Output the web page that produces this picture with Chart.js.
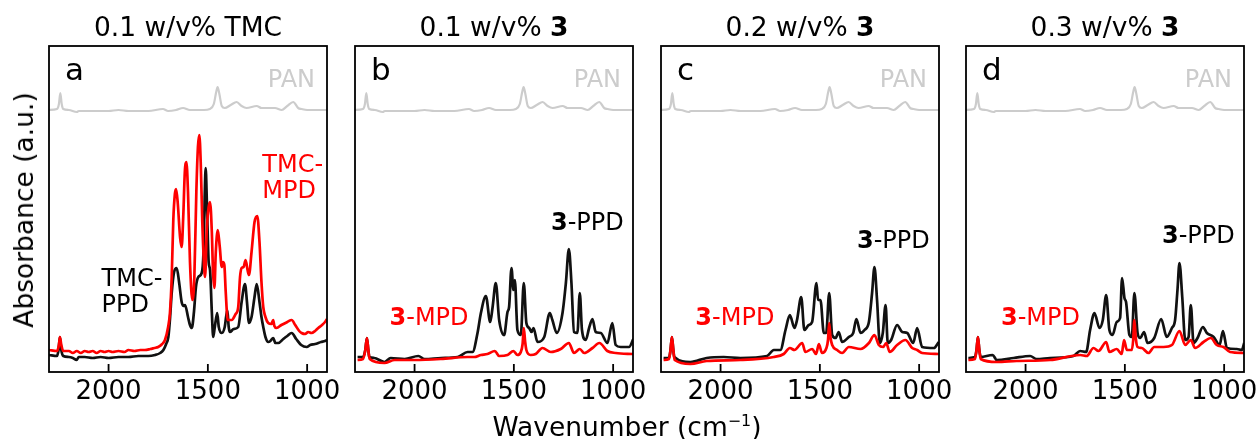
<!DOCTYPE html>
<html>
<head>
<meta charset="utf-8">
<script src="https://cdn.jsdelivr.net/npm/chart.js@4.4.1/dist/chart.umd.min.js"></script>
<style>
  body { margin: 0; background: #fff; width: 1258px; height: 439px; position: relative; overflow: hidden; font-family: "DejaVu Sans", sans-serif; color: #000; }
  canvas { position: absolute; top: 0; }
  .ttl { position: absolute; top: 14px; width: 278px; text-align: center; font-size: 26.5px; line-height: 26px; white-space: nowrap; }
  .xttl { position: absolute; top: 414px; left: 627px; transform: translateX(-50%); font-size: 26.5px; line-height: 26px; white-space: nowrap; }
  .yttl { position: absolute; left: 24px; top: 210px; transform: translate(-50%, -50%) rotate(-90deg); font-size: 26.5px; line-height: 26px; white-space: nowrap; }
  sup { font-size: 60%; line-height: 0; }
</style>
</head>
<body>
<canvas id="pa" width="358" height="439" style="left:4px"></canvas>
<canvas id="pb" width="358" height="439" style="left:310px"></canvas>
<canvas id="pc" width="358" height="439" style="left:616px"></canvas>
<canvas id="pd" width="358" height="439" style="left:921px"></canvas>
<div class="ttl" style="left:49px">0.1 w/v% TMC</div>
<div class="ttl" style="left:355px">0.1 w/v% <b>3</b></div>
<div class="ttl" style="left:661px">0.2 w/v% <b>3</b></div>
<div class="ttl" style="left:966px">0.3 w/v% <b>3</b></div>
<div class="yttl">Absorbance (a.u.)</div>
<div class="xttl">Wavenumber (cm<sup>−1</sup>)</div>
<script>
const xTicks = [2000, 1500, 1000];
const panelLetters = ['a', 'b', 'c', 'd'];

// wavenumber (cm-1), absorbance (offset, a.u.)
const pan = [[2300,2.62],[2260,2.63],[2250,2.68],[2243,2.79],[2236,2.68],[2228,2.63],[2200,2.62],[2160,2.60],[2150,2.61],[2100,2.61],
  [2000,2.61],[1950,2.62],[1900,2.61],[1800,2.61],[1726,2.63],[1700,2.61],[1660,2.62],[1625,2.64],[1590,2.62],[1520,2.62],
  [1490,2.63],[1470,2.68],[1458,2.80],[1451,2.85],[1442,2.78],[1430,2.66],[1415,2.64],[1385,2.67],[1355,2.70],[1330,2.66],
  [1305,2.64],[1254,2.66],[1230,2.64],[1204,2.64],[1162,2.64],[1128,2.62],[1100,2.66],[1070,2.70],[1045,2.64],[1028,2.63],
  [1000,2.62],[950,2.62],[900,2.62]];

const tmcMpd = [[2300,0.22],[2260,0.21],[2250,0.27],[2245,0.35],[2238,0.27],[2228,0.21],[2200,0.21],[2180,0.19],[2160,0.21],[2140,0.19],
  [2120,0.21],[2100,0.20],[2080,0.21],[2060,0.19],[2040,0.21],[2020,0.20],[2000,0.21],[1980,0.20],[1950,0.21],[1920,0.20],
  [1900,0.22],[1870,0.21],[1840,0.22],[1817,0.22],[1790,0.23],[1770,0.24],[1750,0.25],[1730,0.28],[1716,0.32],[1700,0.45],
  [1691,0.59],[1682,0.95],[1674,1.52],[1666,1.78],[1660,1.83],[1652,1.70],[1640,1.35],[1632,1.25],[1624,1.55],[1616,2.00],
  [1608,2.10],[1600,1.80],[1590,1.10],[1578,0.72],[1568,0.95],[1558,1.80],[1550,2.25],[1543,2.37],[1536,2.10],[1528,1.50],
  [1520,1.10],[1514,0.95],[1505,1.45],[1496,1.65],[1489,1.70],[1480,1.40],[1474,1.00],[1467,0.84],[1460,1.20],[1450,1.42],
  [1440,1.25],[1430,1.05],[1424,1.10],[1417,1.07],[1410,0.80],[1400,0.52],[1380,0.52],[1360,0.58],[1347,0.65],[1338,0.95],
  [1330,1.04],[1320,1.05],[1310,1.12],[1300,1.02],[1293,0.97],[1280,1.20],[1265,1.50],[1251,1.56],[1240,1.30],[1230,0.90],
  [1221,0.65],[1210,0.55],[1196,0.49],[1180,0.48],[1171,0.52],[1165,0.46],[1154,0.44],[1130,0.47],[1100,0.50],[1078,0.52],
  [1060,0.47],[1040,0.41],[1028,0.39],[1010,0.38],[995,0.40],[978,0.39],[960,0.41],[944,0.44],[925,0.47],[910,0.50],[900,0.53]];

const tmcPpd = [[2300,0.17],[2260,0.16],[2252,0.22],[2245,0.35],[2238,0.22],[2228,0.16],[2200,0.15],[2180,0.14],[2161,0.12],[2150,0.15],
  [2120,0.15],[2080,0.14],[2040,0.15],[2000,0.14],[1950,0.15],[1900,0.15],[1850,0.16],[1800,0.16],[1766,0.17],[1740,0.19],
  [1724,0.22],[1710,0.28],[1699,0.35],[1690,0.55],[1682,0.79],[1670,1.00],[1657,1.04],[1645,0.90],[1632,0.70],[1622,0.66],
  [1615,0.67],[1600,0.55],[1590,0.47],[1581,0.44],[1570,0.60],[1560,0.85],[1548,0.95],[1531,0.99],[1522,1.20],[1516,1.75],
  [1511,2.04],[1505,1.70],[1496,1.10],[1489,1.02],[1480,0.60],[1473,0.35],[1465,0.45],[1453,0.59],[1445,0.45],[1430,0.39],
  [1415,0.45],[1402,0.62],[1395,0.45],[1389,0.40],[1370,0.43],[1347,0.45],[1330,0.70],[1313,0.88],[1303,0.70],[1293,0.49],
  [1280,0.55],[1265,0.75],[1254,0.88],[1240,0.70],[1230,0.55],[1221,0.45],[1210,0.35],[1196,0.30],[1185,0.31],[1171,0.34],
  [1160,0.29],[1145,0.29],[1120,0.33],[1100,0.36],[1078,0.39],[1055,0.33],[1030,0.27],[1002,0.25],[985,0.27],[960,0.28],
  [930,0.30],[910,0.31],[900,0.32]];

const ppd01 = [[2287,0.15],[2260,0.15],[2248,0.22],[2240,0.34],[2233,0.22],[2228,0.15],[2203,0.14],[2152,0.10],[2120,0.14],[2050,0.13],
  [1981,0.16],[1950,0.13],[1867,0.14],[1783,0.15],[1733,0.20],[1708,0.20],[1683,0.39],[1666,0.59],[1641,0.76],[1619,0.50],
  [1607,0.65],[1591,0.89],[1574,0.52],[1549,0.37],[1532,0.60],[1524,0.65],[1512,1.04],[1502,0.82],[1495,0.92],[1482,0.42],
  [1465,0.37],[1450,0.89],[1437,0.49],[1423,0.44],[1411,0.40],[1401,0.44],[1381,0.30],[1347,0.35],[1319,0.59],[1306,0.52],
  [1284,0.39],[1255,0.59],[1238,0.89],[1223,1.23],[1210,0.89],[1197,0.40],[1180,0.39],[1168,0.79],[1157,0.42],[1138,0.32],
  [1121,0.44],[1104,0.53],[1088,0.40],[1062,0.39],[1029,0.29],[1004,0.49],[987,0.27],[962,0.25],[920,0.25],[898,0.33]];

const mpd01 = [[2287,0.12],[2260,0.13],[2248,0.22],[2240,0.34],[2233,0.22],[2226,0.13],[2152,0.09],[2100,0.12],[2000,0.12],[1867,0.13],
  [1733,0.15],[1700,0.15],[1666,0.17],[1633,0.18],[1596,0.21],[1574,0.16],[1532,0.17],[1502,0.21],[1482,0.17],[1465,0.20],
  [1456,0.28],[1450,0.44],[1443,0.30],[1437,0.22],[1416,0.17],[1390,0.18],[1356,0.24],[1314,0.20],[1264,0.23],[1223,0.29],
  [1197,0.19],[1168,0.23],[1146,0.19],[1104,0.24],[1069,0.29],[1029,0.21],[987,0.19],[898,0.18]];

const ppd02 = [[2287,0.14],[2260,0.14],[2252,0.22],[2245,0.35],[2238,0.22],[2233,0.15],[2152,0.10],[2070,0.14],[1984,0.15],[1900,0.14],
  [1766,0.16],[1732,0.22],[1699,0.22],[1673,0.42],[1651,0.57],[1628,0.44],[1615,0.52],[1594,0.75],[1578,0.42],[1556,0.47],
  [1539,0.50],[1517,0.89],[1509,0.72],[1497,0.72],[1480,0.39],[1468,0.39],[1453,0.79],[1438,0.37],[1421,0.34],[1405,0.40],
  [1388,0.30],[1354,0.35],[1332,0.39],[1316,0.53],[1295,0.39],[1275,0.42],[1253,0.50],[1237,0.79],[1225,1.05],[1212,0.72],
  [1198,0.29],[1183,0.39],[1169,0.67],[1158,0.29],[1141,0.32],[1111,0.47],[1085,0.40],[1060,0.39],[1030,0.29],[1010,0.44],
  [985,0.25],[926,0.24],[901,0.30]];

const mpd02 = [[2287,0.12],[2260,0.13],[2252,0.22],[2245,0.35],[2238,0.22],[2231,0.12],[2152,0.08],[2070,0.11],[1900,0.12],[1732,0.15],
  [1682,0.18],[1651,0.24],[1628,0.22],[1589,0.29],[1573,0.20],[1539,0.23],[1519,0.18],[1505,0.28],[1489,0.19],[1467,0.24],
  [1459,0.32],[1453,0.49],[1446,0.34],[1438,0.27],[1413,0.22],[1388,0.19],[1354,0.25],[1295,0.23],[1253,0.29],[1225,0.37],
  [1203,0.27],[1181,0.25],[1166,0.29],[1148,0.20],[1111,0.27],[1069,0.32],[1035,0.24],[1010,0.22],[985,0.19],[901,0.18]];

const ppd03 = [[2288,0.14],[2255,0.15],[2247,0.22],[2240,0.35],[2233,0.22],[2226,0.15],[2166,0.17],[2145,0.12],[2060,0.14],[1977,0.16],
  [1945,0.13],[1877,0.14],[1759,0.16],[1725,0.21],[1695,0.20],[1675,0.42],[1653,0.59],[1628,0.44],[1611,0.52],[1594,0.77],
  [1578,0.42],[1562,0.37],[1541,0.50],[1524,0.54],[1514,0.94],[1502,0.74],[1494,0.70],[1477,0.37],[1465,0.35],[1452,0.79],
  [1436,0.39],[1423,0.34],[1403,0.40],[1386,0.29],[1352,0.34],[1317,0.53],[1289,0.35],[1263,0.44],[1247,0.52],[1235,0.82],
  [1225,1.09],[1211,0.75],[1196,0.32],[1179,0.35],[1168,0.67],[1154,0.29],[1134,0.34],[1107,0.45],[1087,0.39],[1053,0.35],
  [1023,0.27],[1006,0.41],[986,0.24],[936,0.23],[911,0.22],[899,0.29]];

const mpd03 = [[2288,0.12],[2255,0.13],[2247,0.22],[2240,0.35],[2233,0.22],[2226,0.13],[2145,0.10],[2045,0.11],[1877,0.12],[1725,0.17],
  [1692,0.16],[1658,0.24],[1633,0.21],[1594,0.30],[1578,0.20],[1541,0.23],[1516,0.18],[1504,0.32],[1490,0.22],[1465,0.22],
  [1458,0.32],[1452,0.52],[1445,0.34],[1436,0.25],[1415,0.24],[1381,0.19],[1352,0.25],[1305,0.25],[1263,0.27],[1225,0.41],
  [1196,0.27],[1168,0.32],[1146,0.24],[1104,0.30],[1067,0.34],[1037,0.27],[1003,0.25],[970,0.20],[899,0.19]];

const red = '#ff0000';
const panGray = '#cccccc';
const fontFam = '"DejaVu Sans", sans-serif';

// notes: [wavenumber, absorbance, [[text, bold], ...], colour]
const notesA = [[1226, 2.00, [['TMC-', 0]], red], [1226, 1.74, [['MPD', 0]], red],
                [2035, 0.86, [['TMC-', 0]], '#000'], [2035, 0.60, [['PPD', 0]], '#000']];
const notesB = [[1313, 1.42, [['3', 1], ['-PPD', 0]], '#000'], [2126, 0.47, [['3', 1], ['-MPD', 0]], red]];
const notesC = [[1313, 1.24, [['3', 1], ['-PPD', 0]], '#000'], [2127, 0.47, [['3', 1], ['-MPD', 0]], red]];
const notesD = [[1313, 1.29, [['3', 1], ['-PPD', 0]], '#000'], [2124, 0.47, [['3', 1], ['-MPD', 0]], red]];

const pts = (arr) => arr.map(([x, y]) => ({ x, y }));

const framePlugin = {
  id: 'frame',
  afterDraw(chart, args, opts) {
    const { ctx, chartArea: a, scales } = chart;
    ctx.save();
    ctx.strokeStyle = '#000';
    ctx.lineWidth = 1.8;
    ctx.strokeRect(a.left, a.top, a.right - a.left, a.bottom - a.top);
    ctx.beginPath();
    xTicks.forEach(v => {
      const px = scales.x.getPixelForValue(v);
      ctx.moveTo(px, a.bottom);
      ctx.lineTo(px, a.bottom - 8);
    });
    ctx.stroke();

    // panel letter and PAN label in axes fractions
    ctx.textBaseline = 'alphabetic';
    ctx.fillStyle = '#000';
    ctx.font = '31px ' + fontFam;
    ctx.textAlign = 'left';
    ctx.fillText(opts.letter, a.left + 0.058 * (a.right - a.left), a.bottom - 0.896 * (a.bottom - a.top));
    ctx.fillStyle = panGray;
    ctx.font = '24px ' + fontFam;
    ctx.textAlign = 'right';
    ctx.fillText('PAN', a.left + 0.957 * (a.right - a.left), a.bottom - 0.875 * (a.bottom - a.top));

    ctx.textAlign = 'left';
    opts.notes.forEach(([wn, ab, parts, color]) => {
      let x = scales.x.getPixelForValue(wn);
      const y = scales.y.getPixelForValue(ab);
      ctx.fillStyle = color;
      parts.forEach(([t, b]) => {
        ctx.font = (b ? 'bold ' : '') + '24px ' + fontFam;
        ctx.fillText(t, x, y);
        x += ctx.measureText(t).width;
      });
    });
    ctx.restore();
  }
};

function makePanel(id, letter, mpd, ppd, notes) {
  return new Chart(document.getElementById(id), {
    type: 'line',
    data: {
      datasets: [
        { data: pts(pan), borderColor: panGray, borderWidth: 2.2 },
        { data: pts(mpd), borderColor: red, borderWidth: 2.7 },
        { data: pts(ppd), borderColor: '#111', borderWidth: 2.7 },
      ]
    },
    options: {
      responsive: false,
      animation: false,
      events: [],
      layout: { padding: { left: 45, right: 35, top: 46, bottom: 0 } },
      elements: { point: { radius: 0 }, line: { cubicInterpolationMode: 'monotone' } },
      scales: {
        x: {
          type: 'linear', reverse: true, min: 900, max: 2300,
          afterBuildTicks: s => { s.ticks = xTicks.map(v => ({ value: v })); },
          afterFit: s => { s.height = 67; },
          grid: { display: false, drawTicks: false },
          border: { display: false },
          ticks: { color: '#000', padding: 5, maxRotation: 0, autoSkip: false,
                   font: { family: fontFam, size: 26 }, callback: v => String(v) }
        },
        y: { display: false, min: 0, max: 3.26 }
      },
      plugins: {
        legend: { display: false },
        tooltip: { enabled: false },
        frame: { letter, notes }
      }
    },
    plugins: [framePlugin]
  });
}

makePanel('pa', panelLetters[0], tmcMpd, tmcPpd, notesA);
makePanel('pb', panelLetters[1], mpd01, ppd01, notesB);
makePanel('pc', panelLetters[2], mpd02, ppd02, notesC);
makePanel('pd', panelLetters[3], mpd03, ppd03, notesD);
</script>
</body>
</html>
